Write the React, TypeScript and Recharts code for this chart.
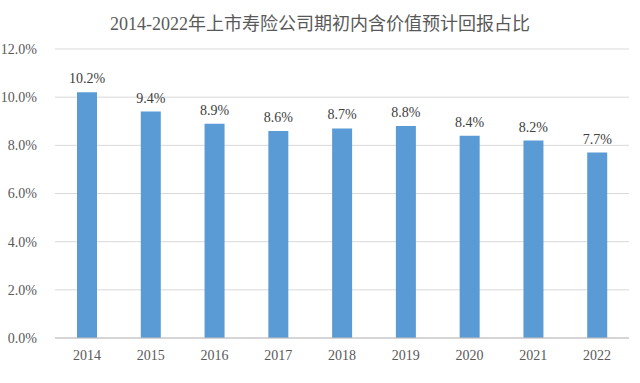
import { BarChart, Bar, XAxis, YAxis, CartesianGrid, LabelList } from 'recharts'

const years = ['2014', '2015', '2016', '2017', '2018', '2019', '2020', '2021', '2022']
const ratios = [10.2, 9.4, 8.9, 8.6, 8.7, 8.8, 8.4, 8.2, 7.7]
const yTicks = [0, 2, 4, 6, 8, 10, 12]

const serif = '"Liberation Serif", "Noto Sans CJK SC", serif'

export default function App() {
  const data = years.map((y, i) => ({ year: y, value: ratios[i] }))
  const tick = { fill: '#595959', fontSize: 14, fontFamily: serif }

  return (
    <div style={{ position: 'absolute', left: 0, top: 0, width: 640, height: 383, background: '#fff' }}>
      <div style={{ position: 'absolute', top: 9, width: 640, textAlign: 'center', fontSize: 18, color: '#595959', fontFamily: serif }}>
        2014-2022年上市寿险公司期初内含价值预计回报占比
      </div>
      <BarChart width={640} height={383} data={data} margin={{ top: 49, right: 11, bottom: 15, left: 0 }} barSize={20}>
        <CartesianGrid vertical={false} stroke="#d9d9d9" />
        <XAxis dataKey="year" tick={tick} tickLine={false} axisLine={{ stroke: '#bfbfbf' }} height={30} tickMargin={6} />
        <YAxis domain={[0, 12]} ticks={yTicks} tick={tick} tickFormatter={v => `${v.toFixed(1)}%`} axisLine={false} tickLine={false} width={55} tickMargin={12} interval={0} />
        <Bar dataKey="value" fill="#5B9BD5" isAnimationActive={false}>
          <LabelList dataKey="value" position="top" offset={9} formatter={(v: any) => `${Number(v).toFixed(1)}%`} style={{ fill: '#404040', fontSize: 14, fontFamily: serif }} />
        </Bar>
      </BarChart>
    </div>
  )
}
